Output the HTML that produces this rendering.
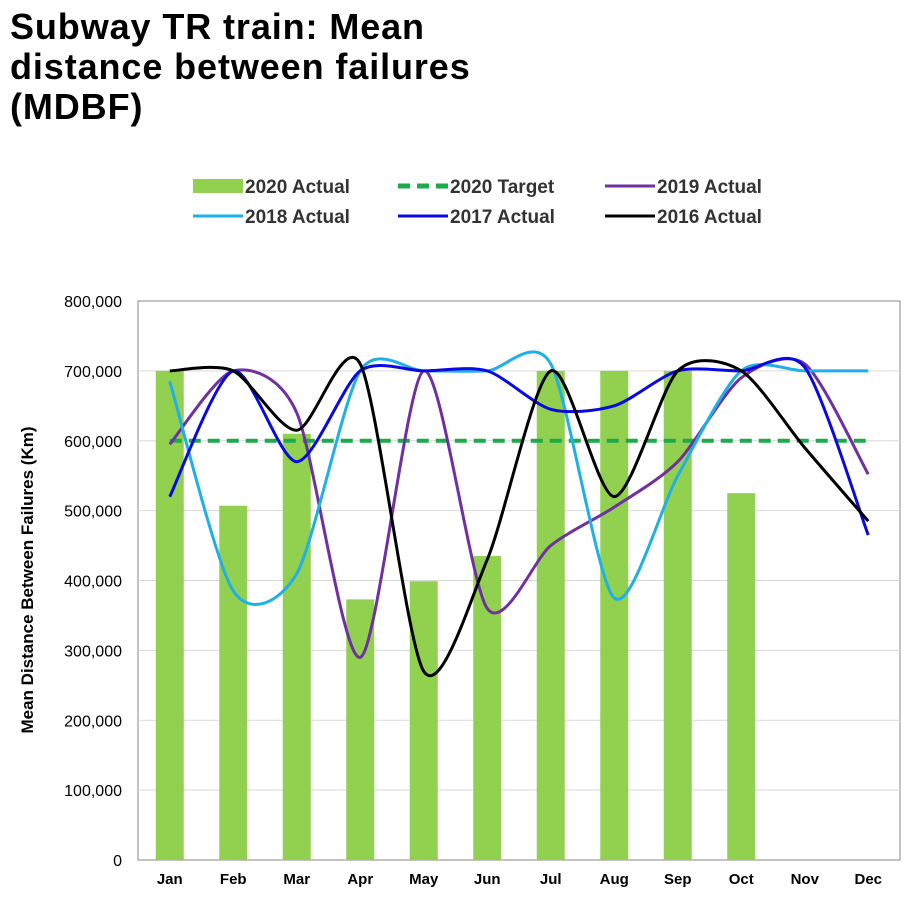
<!DOCTYPE html>
<html><head><meta charset="utf-8"><style>
body{margin:0;background:#fff;width:914px;height:898px;overflow:hidden;font-family:"Liberation Sans",Arial,sans-serif}
#title{position:absolute;left:10px;top:7px;font-size:36px;font-weight:bold;line-height:40px;color:#000;letter-spacing:0.9px}
svg{position:absolute;left:0;top:0}
</style></head><body>
<div id="title">Subway TR train: Mean<br>distance between failures<br>(MDBF)</div>
<svg id="chart" width="914" height="898"></svg>
<script>
const months=["Jan","Feb","Mar","Apr","May","Jun","Jul","Aug","Sep","Oct","Nov","Dec"];
const actual2020=[700000,507000,610000,373000,399000,435000,700000,700000,700000,525000,null,null];
const target2020=[600000,600000,600000,600000,600000,600000,600000,600000,600000,600000,600000,600000];
const actual2019=[595000,700000,640000,290000,700000,360000,450000,505000,570000,690000,710000,552000];
const actual2018=[685000,385000,410000,700000,700000,700000,710000,375000,550000,700000,700000,700000];
const actual2017=[520000,700000,570000,700000,700000,700000,645000,650000,700000,700000,705000,465000];
const actual2016=[700000,700000,615000,710000,270000,430000,700000,520000,700000,700000,590000,485000];
const yTicks=[0,100000,200000,300000,400000,500000,600000,700000,800000];
const yTickLabels=["0","100,000","200,000","300,000","400,000","500,000","600,000","700,000","800,000"];

const NS="http://www.w3.org/2000/svg",svg=document.getElementById('chart');
const L=138,R=900,T=301,B=860,bw=(R-L)/12;
const x=i=>L+bw*(i+0.5), y=v=>B-(v/800000)*(B-T);
function mk(t,a,p){const e=document.createElementNS(NS,t);for(const k in a)e.setAttribute(k,a[k]);(p||svg).appendChild(e);return e;}
let f=mk('rect',{x:L,y:T,width:R-L,height:B-T,fill:'none',stroke:'#888','stroke-width':1});

yTicks.forEach((v,i)=>{
 if(v>0&&v<800000){let g=mk('line',{x1:L,x2:R,y1:y(v),y2:y(v),stroke:'#d9d9d9'});}
 let t=mk('text',{x:L-16,y:y(v)+6,'text-anchor':'end','font-size':16,fill:'#000'});t.textContent=yTickLabels[i];
 
});
months.forEach((m,i)=>{let t=mk('text',{x:x(i),y:884,'text-anchor':'middle','font-size':15,'font-weight':'bold'});t.textContent=m;
 });
let yt=mk('text',{x:0,y:0,transform:'translate(33,580) rotate(-90)','text-anchor':'middle','font-size':17,'font-weight':'bold'});
yt.textContent='Mean Distance Between Failures (Km)';
actual2020.forEach((v,i)=>{if(v==null)return;let r=mk('rect',{x:x(i)-14,y:y(v),width:28,height:B-y(v),fill:'#92d050'});
 });
function smooth(vals){const p=vals.map((v,i)=>[x(i),y(v)]);let d='M'+p[0];
 for(let i=0;i<p.length-1;i++){const p0=p[i-1]||p[i],p1=p[i],p2=p[i+1],p3=p[i+2]||p2;
  const c1=[p1[0]+(p2[0]-p0[0])/7.5,p1[1]+(p2[1]-p0[1])/7.5],c2=[p2[0]-(p3[0]-p1[0])/7.5,p2[1]-(p3[1]-p1[1])/7.5];
  d+=' C'+c1+' '+c2+' '+p2;}return d;}
let tg=mk('path',{d:'M'+target2020.map((v,i)=>x(i)+','+y(v)).join(' L'),fill:'none',stroke:'#1faa4a','stroke-width':4,'stroke-dasharray':'12,7'});

[[actual2019,'#7030a0','line-2019-actual'],[actual2018,'#1fb0e8','line-2018-actual'],[actual2017,'#0a0ae0','line-2017-actual'],[actual2016,'#000','line-2016-actual']].forEach(s=>{
 let p=mk('path',{d:smooth(s[0]),fill:'none',stroke:s[1],'stroke-width':3});
 });
const leg=[[193,186,'2020 Actual','bar','#92d050'],[398,186,'2020 Target','dash','#1faa4a'],[605,186,'2019 Actual','line','#7030a0'],
 [193,216,'2018 Actual','line','#1fb0e8'],[398,216,'2017 Actual','line','#0a0ae0'],[605,216,'2016 Actual','line','#000']];
leg.forEach(l=>{let g=mk('g',{});
 if(l[3]=='bar')mk('rect',{x:l[0],y:l[1]-7,width:50,height:14,fill:l[4]},g);
 else mk('line',{x1:l[0],x2:l[0]+50,y1:l[1],y2:l[1],stroke:l[4],'stroke-width':l[3]=='dash'?5:3,'stroke-dasharray':l[3]=='dash'?'12,7':'none'},g);
 let t=mk('text',{x:l[0]+52,y:l[1]+7,'font-size':19,'font-weight':'bold',fill:'#333'},g);t.textContent=l[2];});
</script></body></html>
